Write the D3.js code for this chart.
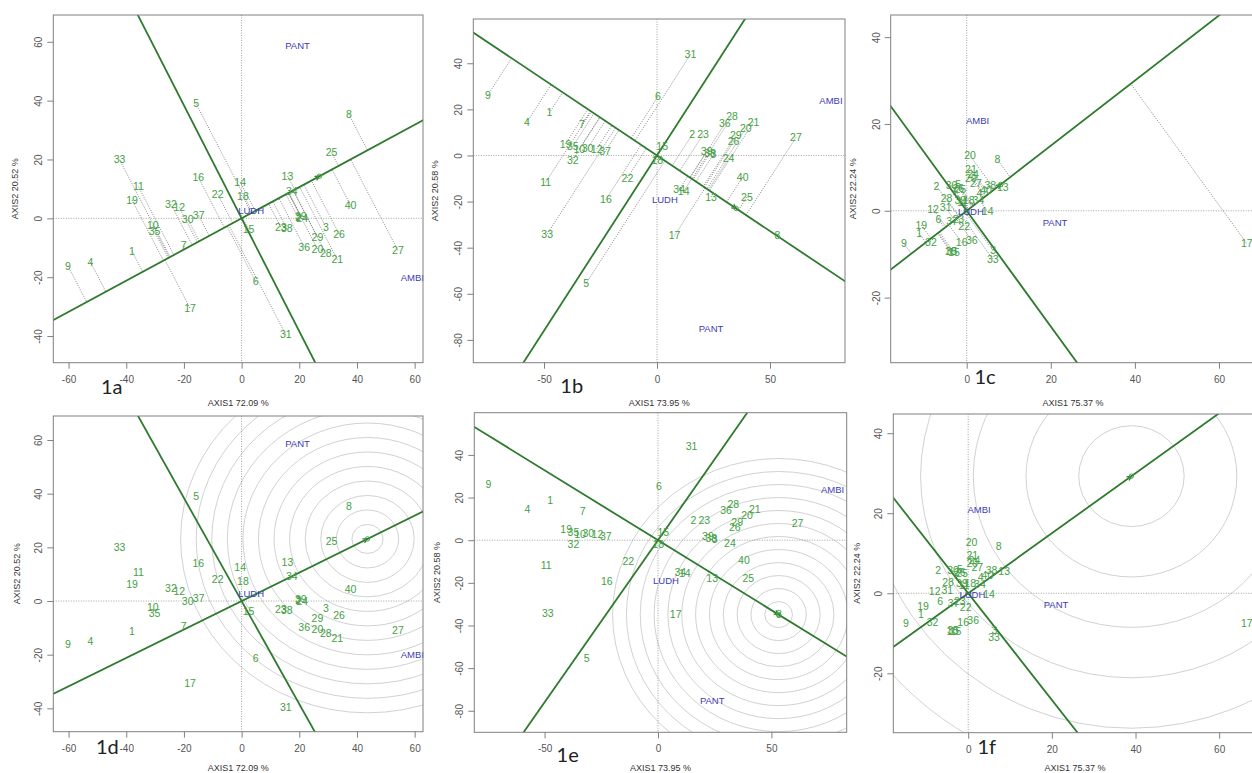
<!DOCTYPE html>
<html><head><meta charset="utf-8">
<script src="https://cdn.jsdelivr.net/npm/d3@7"></script>
<style>
html,body{margin:0;padding:0;background:#fff;}
svg{display:block;}
</style></head>
<body><svg id="c" width="1252" height="773"></svg>
<script>
// ---------------- DATA ----------------
const genotypes = ["1","2","3","4","5","6","7","8","9","10","11","12","13","14","15","16","17","18","19","20",
                   "21","22","23","24","25","26","27","28","29","30","31","32","33","34","35","36","37","38","39","40"];
const environments = ["PANT","LUDH","AMBI"];

// Trait A (panels 1a, 1d)
const gxA = [-38.0,19.6,29.2,-52.4,-15.8,4.9,-20.1,37.2,-60.2,-30.8,-35.8,-21.6,15.9,-0.5,2.4,-15.0,-17.9,0.45,-38.0,26.3,
             33.2,-8.3,13.6,21.0,31.2,33.8,54.2,29.2,26.3,-18.7,15.3,-24.5,-42.3,17.4,-30.2,21.7,-14.9,15.7,20.5,37.8];
const gyA = [-11.2,0.2,-2.9,-14.9,39.0,-21.5,-9.3,35.3,-16.2,-2.5,10.8,3.7,14.4,12.4,-3.7,13.9,-30.5,7.4,6.2,-10.4,
             -14.0,8.2,-3.0,-0.1,22.3,-5.3,-10.9,-11.9,-6.3,-0.2,-39.5,4.8,19.9,9.2,-4.5,-9.7,1.0,-3.5,0.8,4.4];
const exA = [19.4,3.3,59.2];
const eyA = [58.6,2.7,-20.0];

// Trait B (panels 1b, 1e)
const gxB = [-47.6,15.6,25.0,-57.6,-31.4,0.4,-33.2,53.3,-74.8,-34.4,-49.3,-26.7,23.9,11.8,2.3,-22.6,7.8,0.1,-40.5,39.3,
             42.7,-13.1,20.4,31.7,39.8,33.9,61.5,33.2,34.9,-30.7,14.8,-37.3,-48.6,9.8,-37.3,30.0,-23.0,23.5,22.0,37.9];
const gyB = [18.5,9.1,0.5,14.4,-55.5,25.5,13.6,-34.7,26.3,2.8,-11.7,2.8,-18.0,-15.6,3.9,-19.1,-34.7,-1.9,5.0,11.7,
             14.4,-9.7,9.1,-1.3,-18.0,6.0,7.8,16.9,8.6,3.1,43.8,-1.9,-34.1,-14.9,3.9,13.8,1.6,1.0,1.8,-9.4];
const exB = [23.9,3.5,77.0];
const eyB = [-75.1,-19.0,23.9];

// Trait C (panels 1c, 1f)
const gxC = [-11.3,-7.2,6.3,3.0,-2.0,-6.7,-3.0,7.3,-14.9,-3.8,-1.0,-8.0,8.6,5.0,-3.0,-1.2,66.6,0.5,-10.8,0.8,
             1.0,-0.6,-2.0,1.5,-1.5,-2.0,2.2,-4.8,1.0,-3.6,-5.0,-8.5,6.2,2.8,-3.6,1.2,-3.5,5.6,-1.5,4.6];
const gyC = [-5.2,5.7,-9.2,4.0,6.0,-2.0,4.5,11.8,-7.6,-9.4,2.0,0.4,5.5,-0.2,-9.6,-7.3,-7.5,2.5,-3.3,12.7,
             9.6,-3.5,-2.0,8.3,5.0,5.2,6.4,2.8,7.5,5.8,0.7,-7.2,-11.1,2.3,-9.3,-6.8,-2.5,5.8,2.5,4.6];
const exC = [21.0,1.0,2.6];
const eyC = [-2.75,-0.3,20.8];

// axis ticks / titles
const xTicksA = [-60,-40,-20,0,20,40,60], yTicksA = [-40,-20,0,20,40,60];
const xTicksB = [-50,0,50],               yTicksB = [-80,-60,-40,-20,0,20,40];
const xTicksC = [0,20,40,60],             yTicksC = [-20,0,20,40];
const xTitles = ["AXIS1 72.09 %","AXIS1 73.95 %","AXIS1 75.37 %"];
const yTitles = ["AXIS2 20.52 %","AXIS2 20.58 %","AXIS2 22.24 %"];
const panelNames = ["1a","1b","1c","1d","1e","1f"];
// slopes of the two green axes (AEC abscissa, AEC ordinate)
const slopesA = [0.53,-1.92], slopesB = [-0.656,1.52], slopesC = [0.75,-1.333];

// ---------------- LAYOUT ----------------
const FONT = "'Liberation Sans', Arial, sans-serif";
const GREEN_LINE = "#2f7a2f", GREEN_TXT = "#44a044", BLUE = "#3c3cb4";
const mk = (gx,gy,ex,ey) => ({gx,gy,ex,ey});
const dA = mk(gxA,gyA,exA,eyA), dB = mk(gxB,gyB,exB,eyB), dC = mk(gxC,gyC,exC,eyC);

const panels = [
  {d:dA, s:slopesA, L:53.3, R:423, T:15,  B:362.7, xd:[-65.3,62.9], yd:[-49.06,69.1], xt:xTicksA, yt:yTicksA, mode:"proj", k:0, xty:403, ytx:15,  lab:[111.7,386.7]},
  {d:dB, s:slopesB, L:473.3,R:845, T:19,  B:362.7, xd:[-81.3,83.2], yd:[-89.9,59.2],  xt:xTicksB, yt:yTicksB, mode:"proj", k:1, xty:403, ytx:435, lab:[571.7,385.7]},
  {d:dC, s:slopesC, L:890.7,R:1256,T:15,  B:362.7, xd:[-18.07,68.8],yd:[-35.0,45.1],  xt:xTicksC, yt:yTicksC, mode:"proj", k:2, xty:403, ytx:853, lab:[985,376.7], xtx:1073},
  {d:dA, s:slopesA, L:53.3, R:423, T:416, B:731.7, xd:[-65.3,62.9], yd:[-48.7,68.95], xt:xTicksA, yt:yTicksA, mode:"rings", ring:5.4, nr:12, k:0, xty:768, ytx:16.7, lab:[107.3,746.7]},
  {d:dB, s:slopesB, L:474.3,R:846.7,T:412.7,B:732.3,xd:[-81.0,83.2], yd:[-90.1,59.8],  xt:xTicksB, yt:yTicksB, mode:"rings", ring:6.1, nr:12, k:1, xty:768, ytx:436.7, lab:[567.7,755]},
  {d:dC, s:slopesC, L:893.3,R:1256,T:414, B:732.7, xd:[-17.9,68.8], yd:[-34.85,44.8], xt:xTicksC, yt:yTicksC, mode:"rings", ring:12.6, nr:7, k:2, xty:768, ytx:856.7, lab:[986.7,746.7], xtx:1075}
];

const svg = d3.select("#c");
svg.append("rect").attr("width",1252).attr("height",773).attr("fill","#fff");
const defs = svg.append("defs");

panels.forEach((p,i)=>{
  const x = d3.scaleLinear().domain(p.xd).range([p.L,p.R]);
  const y = d3.scaleLinear().domain(p.yd).range([p.B,p.T]);
  const g = svg.append("g");
  defs.append("clipPath").attr("id","cp"+i).append("rect")
     .attr("x",p.L).attr("y",p.T).attr("width",p.R-p.L).attr("height",p.B-p.T);
  const c = g.append("g").attr("clip-path",`url(#cp${i})`);
  const D = p.d;
  const sA = p.s[0], sB = p.s[1];
  let ux = 1/Math.hypot(1,sA), uy = sA/Math.hypot(1,sA);
  const mx = d3.mean(D.ex), my = d3.mean(D.ey);
  if (mx*ux+my*uy < 0){ux=-ux;uy=-uy;}
  const projs = D.gx.map((v,j)=> v*ux + D.gy[j]*uy);
  const maxP = d3.max(projs);
  const ideal = [maxP*ux, maxP*uy];
  const avgP = mx*ux+my*uy;
  const avg = [avgP*ux, avgP*uy];

  if (p.mode==="rings"){
    for(let k=1;k<=p.nr;k++){
      const r = k*p.ring;
      c.append("ellipse").attr("cx",x(ideal[0])).attr("cy",y(ideal[1]))
        .attr("rx",Math.abs(x(r)-x(0))).attr("ry",Math.abs(y(r)-y(0)))
        .attr("fill","none").attr("stroke","#cccccc").attr("stroke-width",0.9);
    }
  }
  c.append("line").attr("x1",x(0)).attr("x2",x(0)).attr("y1",p.T).attr("y2",p.B)
    .attr("stroke","#8a8a8a").attr("stroke-width",0.8).attr("stroke-dasharray","1,1.5");
  c.append("line").attr("y1",y(0)).attr("y2",y(0)).attr("x1",p.L).attr("x2",p.R)
    .attr("stroke","#8a8a8a").attr("stroke-width",0.8).attr("stroke-dasharray","1,1.5");
  if (p.mode==="proj"){
    D.gx.forEach((gxv,j)=>{
      const t = projs[j];
      c.append("line").attr("x1",x(gxv)).attr("y1",y(D.gy[j]))
        .attr("x2",x(t*ux)).attr("y2",y(t*uy))
        .attr("stroke","#555").attr("stroke-width",0.7).attr("stroke-dasharray","1,1.4");
    });
  }
  [sA,sB].forEach(s=>{
    const n = Math.hypot(1,s), vx=1/n, vy=s/n, T=400;
    c.append("line").attr("x1",x(-T*vx)).attr("y1",y(-T*vy)).attr("x2",x(T*vx)).attr("y2",y(T*vy))
      .attr("stroke",GREEN_LINE).attr("stroke-width",1.8);
  });
  const mp = p.mode==="rings" ? ideal : avg;
  const ang = Math.atan2(-(y(mp[1]+uy)-y(mp[1])), x(mp[0]+ux)-x(mp[0]));
  const px = x(mp[0]), py = y(mp[1]);
  const a1 = -ang + Math.PI*0.85, a2 = -ang - Math.PI*0.85;
  c.append("path").attr("d",`M${px+5*Math.cos(a1)},${py+5*Math.sin(a1)}L${px},${py}L${px+5*Math.cos(a2)},${py+5*Math.sin(a2)}`)
    .attr("fill","none").attr("stroke",GREEN_LINE).attr("stroke-width",1.2);
  c.append("circle").attr("cx",px).attr("cy",py).attr("r",2.2).attr("fill","none").attr("stroke",GREEN_TXT).attr("stroke-width",1);

  g.append("g").selectAll("text").data(genotypes).join("text")
    .attr("x",(d,j)=>x(D.gx[j])).attr("y",(d,j)=>y(D.gy[j])).attr("dy","0.35em")
    .attr("text-anchor","middle").attr("font-family",FONT).attr("font-size",10.5)
    .attr("fill",GREEN_TXT).text(d=>d);
  g.append("g").selectAll("text").data(environments).join("text")
    .attr("x",(d,j)=>x(D.ex[j])).attr("y",(d,j)=>y(D.ey[j])).attr("dy","0.35em")
    .attr("text-anchor","middle").attr("font-family",FONT).attr("font-size",9.5)
    .attr("fill",BLUE).text(d=>d);

  g.append("rect").attr("x",p.L).attr("y",p.T).attr("width",p.R-p.L).attr("height",p.B-p.T)
    .attr("fill","none").attr("stroke","#808080").attr("stroke-width",1);
  const ax = d3.axisBottom(x).tickValues(p.xt).tickSize(6).tickPadding(7).tickFormat(d=>String(d));
  g.append("g").attr("transform",`translate(0,${p.B})`).call(ax).call(s=>{
    s.select(".domain").remove();
    s.selectAll("line").attr("stroke","#808080");
    s.selectAll("text").attr("fill","#555").attr("font-size",10).attr("font-family",FONT);
  });
  const ay = d3.axisLeft(y).tickValues(p.yt).tickSize(6).tickFormat(d=>String(d));
  g.append("g").attr("transform",`translate(${p.L},0)`).call(ay).call(s=>{
    s.select(".domain").remove();
    s.selectAll("line").attr("stroke","#808080");
    s.selectAll("text").attr("transform","rotate(-90)").attr("x",0).attr("y",-11).attr("dy",0)
      .attr("text-anchor","middle").attr("fill","#555").attr("font-size",10).attr("font-family",FONT);
  });
  g.append("text").attr("x",p.xtx || (p.L+p.R)/2).attr("y",p.xty).attr("dy","0.35em")
    .attr("text-anchor","middle").attr("font-family",FONT).attr("font-size",9)
    .attr("fill","#333").text(xTitles[p.k]);
  g.append("text").attr("transform",`translate(${p.ytx},${(p.T+p.B)/2}) rotate(-90)`).attr("dy","0.35em")
    .attr("text-anchor","middle").attr("font-family",FONT).attr("font-size",9)
    .attr("fill","#333").text(yTitles[p.k]);
  g.append("text").attr("x",p.lab[0]).attr("y",p.lab[1]).attr("dy","0.35em")
    .attr("text-anchor","middle").attr("font-family","Lato, 'Open Sans', sans-serif").attr("font-size",20)
    .attr("fill","#222").text(panelNames[i]);
});
</script>
</body></html>
